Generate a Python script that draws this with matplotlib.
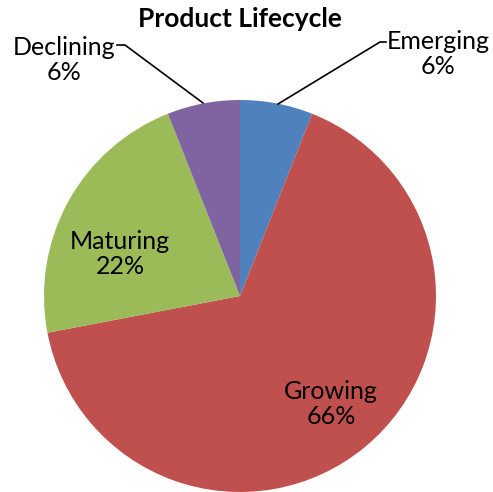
import matplotlib
matplotlib.use('Agg')
import matplotlib.pyplot as plt

plt.rcParams['font.family'] = ['Lato', 'DejaVu Sans']

# data
stages = ['Emerging', 'Growing', 'Maturing', 'Declining']
shares = [6, 66, 22, 6]
colors = ['#4F81BD', '#C0504D', '#9BBB59', '#8064A2']

fig = plt.figure(figsize=(4.93, 4.92), dpi=100)
ax = fig.add_axes([0, 0, 1, 1])

# pie in pixel-like coords (y up)
cx, cy, r = 240, 492 - 296, 196
ax.pie(shares, colors=colors, startangle=90, counterclock=False,
       center=(cx, cy), radius=r, frame=True)
ax.set_xlim(0, 493)
ax.set_ylim(0, 492)
ax.set_aspect('equal')
ax.axis('off')

ax.text(240, 492 - 19, 'Product Lifecycle', ha='center', va='center',
        fontsize=19, fontweight='bold')

fs = 18
# Emerging (outside, leader line)
ax.plot([278, 380, 386], [492 - 104, 492 - 42, 492 - 42], color='black', lw=1.2)
ax.text(438, 492 - 54, f'{stages[0]}\n{shares[0]}%', ha='center', va='center',
        fontsize=fs, linespacing=1.12)
# Declining (outside, leader line)
ax.plot([203, 125, 117], [492 - 103, 492 - 45, 492 - 45], color='black', lw=1.2)
ax.text(64, 492 - 60, f'{stages[3]}\n{shares[3]}%', ha='center', va='center',
        fontsize=fs, linespacing=1.12)
# inside labels
ax.text(120, 492 - 254, f'{stages[2]}\n{shares[2]}%', ha='center', va='center',
        fontsize=fs, linespacing=1.12)
ax.text(331, 492 - 404, f'{stages[1]}\n{shares[1]}%', ha='center', va='center',
        fontsize=fs, linespacing=1.12)

fig.savefig('out.png', dpi=100)
